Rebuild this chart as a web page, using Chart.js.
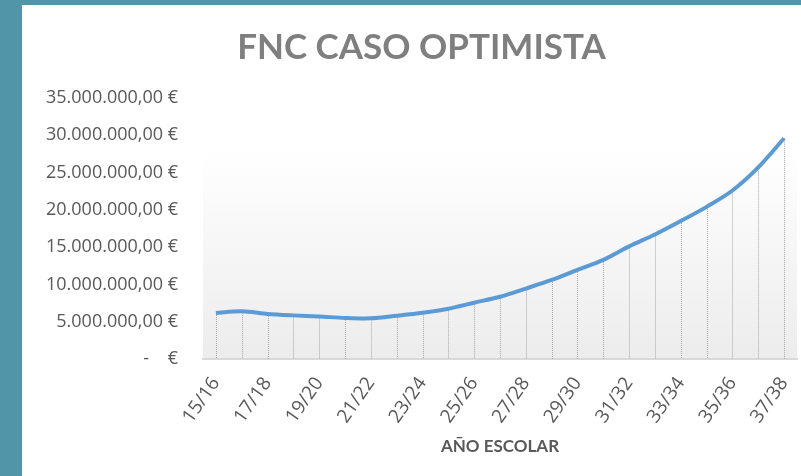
<!DOCTYPE html>
<html>
<head>
<meta charset="utf-8">
<script src="https://cdn.jsdelivr.net/npm/chart.js@4.4.1/dist/chart.umd.min.js"></script>
<style>
  html, body { margin: 0; padding: 0; }
  body { width: 801px; height: 476px; background: #5196a8; position: relative; overflow: hidden; }
  #box { position: absolute; left: 22px; top: 5px; width: 779px; height: 471px; background: #ffffff; }
</style>
</head>
<body>
<div id="box"><canvas id="fncChart" width="779" height="471"></canvas></div>
<script>
// datos del gráfico
const cursos = ['15/16', '16/17', '17/18', '18/19', '19/20', '20/21', '21/22', '22/23',
  '23/24', '24/25', '25/26', '26/27', '27/28', '28/29', '29/30', '30/31', '31/32',
  '32/33', '33/34', '34/35', '35/36', '36/37', '37/38'];
const fnc = [6170000, 6400000, 6050000, 5850000, 5700000, 5500000, 5450000, 5800000,
  6200000, 6750000, 7550000, 8350000, 9450000, 10600000, 11950000, 13300000, 15100000,
  16700000, 18500000, 20400000, 22600000, 25700000, 29600000];
const ejeY = [0, 5000000, 10000000, 15000000, 20000000, 25000000, 30000000, 35000000];

const gris = '#595959';

// formato contable en euros
function euros(v) {
  if (v === 0) return '-    €';
  return v.toLocaleString('de-DE', { minimumFractionDigits: 2, maximumFractionDigits: 2 }) + ' €';
}

// fondo degradado del área de trazado
const fondo = {
  id: 'fondo',
  afterLayout(chart) {
    // el título va algo desplazado a la derecha
    if (chart.titleBlock) chart.titleBlock.left += 24;
  },
  beforeDraw(chart) {
    const { ctx, chartArea: a } = chart;
    const g = ctx.createLinearGradient(0, a.top, 0, a.bottom);
    g.addColorStop(0, '#ffffff');
    g.addColorStop(0.2, '#ffffff');
    g.addColorStop(1, '#ececec');
    ctx.save();
    ctx.fillStyle = g;
    ctx.fillRect(a.left, a.top + a.height * 0.2, a.right - a.left, a.height * 0.8);
    ctx.restore();
  }
};

// líneas de caída punteadas
const caidas = {
  id: 'caidas',
  beforeDatasetsDraw(chart) {
    const { ctx } = chart;
    const meta = chart.getDatasetMeta(0);
    const base = chart.scales.y.getPixelForValue(0);
    ctx.save();
    ctx.strokeStyle = '#a8a8a8';
    ctx.lineWidth = 1;
    ctx.setLineDash([1, 1]);
    meta.data.forEach(p => {
      const x = Math.round(p.x) + 0.5;
      ctx.beginPath();
      ctx.moveTo(x, p.y);
      ctx.lineTo(x, base);
      ctx.stroke();
    });
    ctx.restore();
  }
};

const ctx = document.getElementById('fncChart').getContext('2d');
new Chart(ctx, {
  type: 'line',
  data: {
    labels: cursos,
    datasets: [{
      label: 'FNC',
      data: fnc,
      borderColor: '#5b9bd5',
      borderWidth: 4,
      tension: 0.3,
      pointRadius: 0,
      fill: false
    }]
  },
  plugins: [fondo, caidas],
  options: {
    responsive: false,
    animation: false,
    layout: { padding: { left: 0, right: 4, top: 0, bottom: 19 } },
    plugins: {
      legend: { display: false },
      tooltip: { enabled: false },
      title: {
        display: true,
        text: 'FNC CASO OPTIMISTA',
        color: '#7f7f7f',
        font: { family: 'Lato', size: 35, weight: 'bold' },
        padding: { top: 22, bottom: 29 }
      }
    },
    scales: {
      x: {
        offset: true,
        afterFit(axis) {
          axis.height = 98;
          axis.paddingLeft = 0;
          axis.paddingRight = 0;
        },
        grid: { display: false, drawTicks: false },
        border: { display: true, color: '#d9d9d9', width: 2 },
        ticks: {
          autoSkip: false,
          minRotation: 55,
          maxRotation: 55,
          padding: 14,
          color: gris,
          font: { family: 'Open Sans', size: 19 },
          callback: (v, i) => (i % 2 === 0 ? cursos[i] : '')
        },
        title: {
          display: true,
          text: 'AÑO ESCOLAR',
          color: gris,
          font: { family: 'Lato', size: 17, weight: 'bold' },
          padding: { top: 0, bottom: 0 }
        }
      },
      y: {
        min: 0,
        max: 35000000,
        afterBuildTicks(axis) { axis.ticks = ejeY.map(v => ({ value: v })); },
        afterFit(axis) { axis.width = 181; },
        grid: { display: false, drawTicks: false },
        border: { display: false },
        ticks: {
          padding: 25,
          color: gris,
          font: { family: 'Open Sans', size: 18 },
          callback: v => euros(v)
        }
      }
    }
  }
});
</script>
</body>
</html>
